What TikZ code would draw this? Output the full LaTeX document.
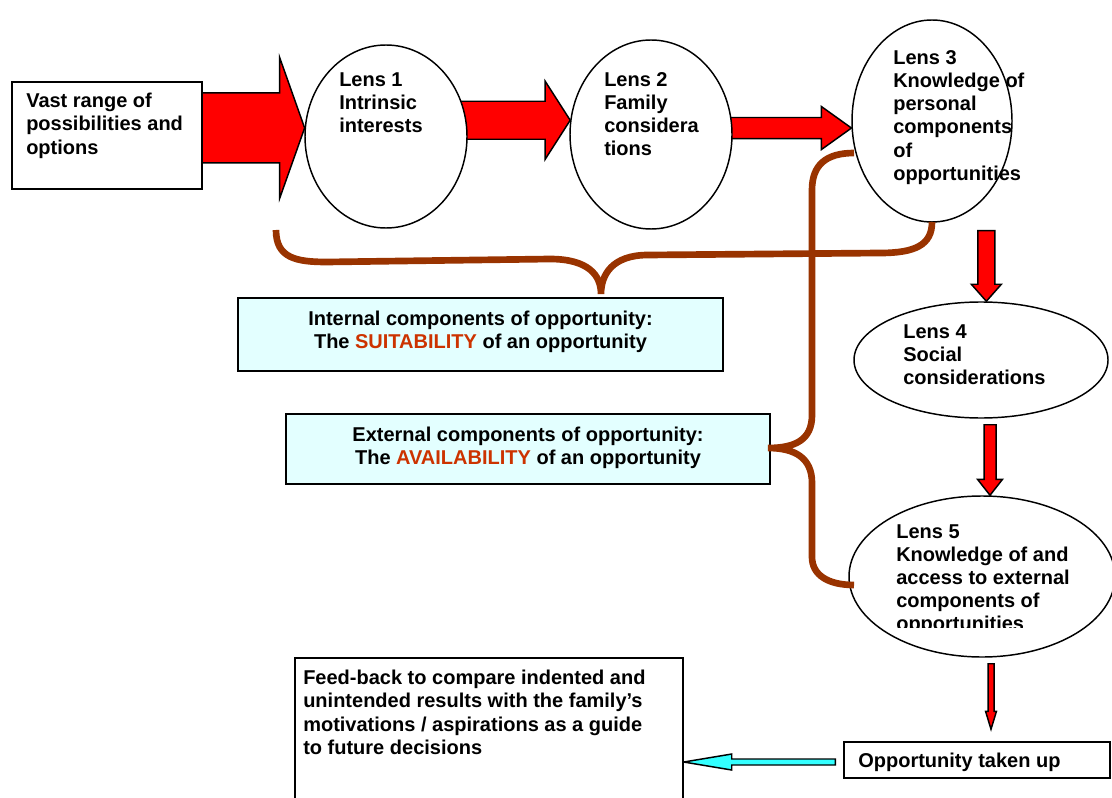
\documentclass[tikz,border=0pt]{standalone}
\usepackage{fontspec}
\setmainfont{Liberation Sans}
\usetikzlibrary{calc,shapes.geometric,backgrounds}
\definecolor{braceC}{HTML}{993300}
\definecolor{boxC}{HTML}{E3FFFF}
\definecolor{hiC}{HTML}{CC3300}
\definecolor{cyanC}{HTML}{33FFFF}
% block arrow: [style]{tail}{tip}{half shaft}{half head}{head length}
\newcommand\blockarrow[6][]{%
  \coordinate (bah) at ($(#3)!#6!(#2)$);
  \path[#1] ($(#2)!#4!90:(#3)$) -- ($(bah)!#4!90:(#3)$) -- ($(bah)!#5!90:(#3)$) -- (#3)
    -- ($(bah)!#5!-90:(#3)$) -- ($(bah)!#4!-90:(#3)$) -- ($(#2)!#4!-90:(#3)$) -- cycle;}
\begin{document}
\begin{tikzpicture}[x=0.75pt,y=-0.75pt,
  txt/.style={font=\fontsize{15}{17.4}\selectfont\bfseries, inner sep=0pt, align=left, anchor=north west},
  ctxt/.style={txt, align=center, anchor=north},
  lens/.style={ellipse, draw, line width=1.1pt, fill=white, inner sep=0pt},
  plainbox/.style={rectangle, draw, line width=1.1pt, fill=white, inner sep=0pt},
  compbox/.style={plainbox, fill=boxC},
  redarrow/.style={draw, fill=red, line width=1.1pt},
  cyanarrow/.style={draw, fill=cyanC, line width=1.1pt},
  brace/.style={draw=braceC, line width=5pt}]
\useasboundingbox (0,0) rectangle (1112,798);

% shapes
\node[plainbox, minimum width=142.5pt, minimum height=80.25pt] (box1) at (107,135.5) {};
\node[lens, minimum width=121.5pt, minimum height=137.25pt] (e1) at (386,136.5) {};
\node[lens, minimum width=121.5pt, minimum height=141.75pt] (e2) at (651,134.5) {};
\node[lens, minimum width=120pt, minimum height=151.5pt] (e3) at (932,121) {};
\node[lens, minimum width=190.5pt, minimum height=87pt] (e4) at (981,360) {};
\node[lens, minimum width=199.5pt, minimum height=120.75pt] (e5) at (982,576.5) {};
\node[compbox, minimum width=363.75pt, minimum height=54.75pt] (inbox) at (480.5,334.5) {};
\node[compbox, minimum width=363pt, minimum height=52.5pt] (exbox) at (528,449) {};
\node[plainbox, minimum width=199.5pt, minimum height=27pt] (opp) at (977,760) {};
\node[plainbox, minimum width=291pt, minimum height=110.25pt] (fb) at (489,731.5) {};

% texts
\node[txt] (tbox1) at (26,93) {Vast range of\\possibilities and\\options};
\node[txt] (t1) at (339,72) {Lens 1\\Intrinsic\\interests};
\node[txt] (t2) at (604,72) {Lens 2\\Family\\considera\\tions};
\node[txt] (t3) at (893,50) {Lens 3\\Knowledge of\\personal\\components\\of\\opportunities};
\node[txt] (t4) at (903,324) {Lens 4\\Social\\considerations};
\begin{scope}
\clip (0,0) rectangle (1112,627);
\node[txt] (t5) at (896,524) {Lens 5\\Knowledge of and\\access to external\\components of\\opportunities};
\end{scope}
\node[ctxt] (tin) at (480.5,311) {Internal components of opportunity:\\The \textcolor{hiC}{SUITABILITY} of an opportunity};
\node[ctxt] (tex) at (528,427) {External components of opportunity:\\The \textcolor{hiC}{AVAILABILITY} of an opportunity};
\node[txt] (topp) at (858,753) {Opportunity taken up};
\node[txt] (tfb) at (303,670) {Feed-back to compare indented and\\unintended results with the family’s\\motivations / aspirations as a guide\\to future decisions};

% arrows
\begin{pgfonlayer}{background}
\coordinate (a1b) at (box1.center |- e1.174);
\blockarrow[redarrow]{a1b}{e1.174}{26.25pt}{52.9pt}{18.75pt}
\coordinate (a2b) at (e1.center |- e2.170);
\blockarrow[redarrow]{a2b}{e2.170}{14.25pt}{29.25pt}{18.75pt}
\coordinate (a3b) at (e2.center |- e3.185);
\blockarrow[redarrow]{a3b}{e3.185}{7.9pt}{16.1pt}{22.5pt}
\coordinate (a4e) at ([xshift=4pt]e4.north);
\coordinate (a4b) at ($(e3.south -| a4e)+(0,8)$);
\blockarrow[redarrow]{a4b}{a4e}{6.4pt}{11.25pt}{12.75pt}
\coordinate (a5e) at ([xshift=6pt]e5.north);
\coordinate (a5b) at ($(e4.south -| a5e)+(0,6)$);
\blockarrow[redarrow]{a5b}{a5e}{4.5pt}{9.4pt}{12pt}
\coordinate (a6b) at ($(e5.south)+(9,6)$);
\coordinate (a6e) at ($(opp.north -| a6b)+(0,-12)$);
\blockarrow[redarrow]{a6b}{a6e}{2.25pt}{4.1pt}{13.5pt}
\coordinate (a7b) at ($(opp.west)+(-8,2)$);
\coordinate (a7e) at (fb.east |- a7b);
\blockarrow[cyanarrow]{a7b}{a7e}{2.25pt}{6pt}{36pt}
\end{pgfonlayer}

% braces
\draw[brace] (276,230) .. controls (276,258) and (296,262) .. (327,262) -- (550,259)
  .. controls (588,259) and (601,275) .. (601,294)
  .. controls (601,275) and (612,255) .. (648,255) -- (880,253)
  .. controls (915,253) and (932,245) .. (932,222);
\draw[brace] (854,153) .. controls (826,153) and (812,165) .. (812,190) -- (812,415)
  .. controls (812,440) and (795,448) .. (768,448)
  .. controls (795,448) and (812,458) .. (812,483) -- (812,557)
  .. controls (812,575) and (828,585) .. (854,585);
\end{tikzpicture}
\end{document}
